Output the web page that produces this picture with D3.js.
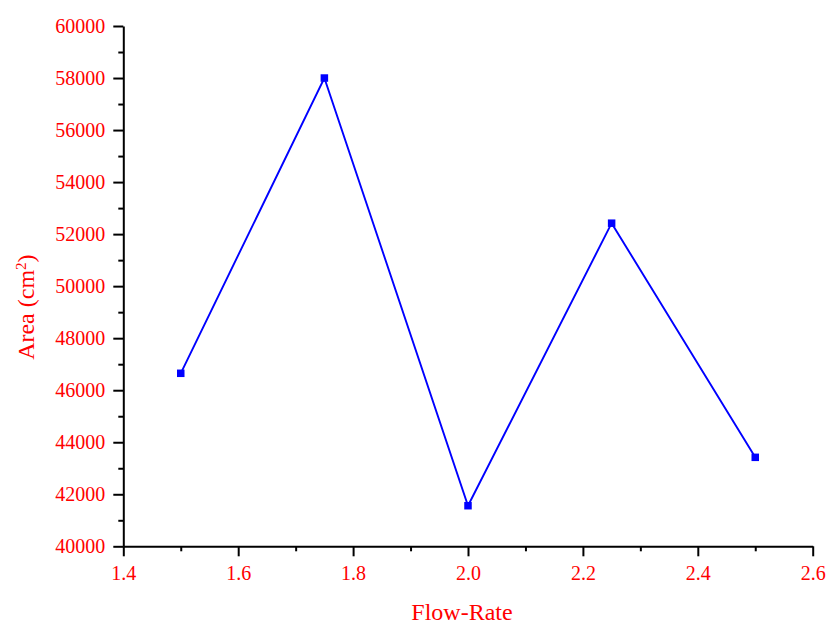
<!DOCTYPE html>
<html>
<head>
<meta charset="utf-8">
<script src="https://cdn.jsdelivr.net/npm/d3@7"></script>
<style>
  html, body { margin: 0; padding: 0; background: #fff; }
  svg { display: block; }
  text { font-family: "Liberation Serif", "Times New Roman", serif; fill: #ff0000; }
</style>
</head>
<body>
<svg id="chart" width="830" height="626"></svg>
<script>
// Flow rate vs. area measurements
const flowRates = [1.5, 1.75, 2.0, 2.25, 2.5];
const areas = [46650, 58000, 41560, 52420, 43420];

const xTicks = [1.4, 1.6, 1.8, 2.0, 2.2, 2.4, 2.6];
const xMinorTicks = [1.5, 1.7, 1.9, 2.1, 2.3, 2.5];
const yTicks = [40000, 42000, 44000, 46000, 48000, 50000, 52000, 54000, 56000, 58000, 60000];
const yMinorTicks = [41000, 43000, 45000, 47000, 49000, 51000, 53000, 55000, 57000, 59000];

const svg = d3.select("#chart");
const plot = { left: 123.3, right: 812.7, top: 26, bottom: 546.3 };

const x = d3.scaleLinear().domain([1.4, 2.6]).range([plot.left, plot.right]);
const y = d3.scaleLinear().domain([40000, 60000]).range([plot.bottom, plot.top]);

// Minor ticks
const xMinor = d3.axisBottom(x).tickValues(xMinorTicks).tickSize(5).tickFormat("");
const yMinor = d3.axisLeft(y).tickValues(yMinorTicks).tickSize(5).tickFormat("");
svg.append("g").attr("transform", `translate(0,${plot.bottom})`).call(xMinor)
  .call(g => g.select(".domain").remove())
  .selectAll("line").attr("stroke", "#000").attr("stroke-width", 2);
svg.append("g").attr("transform", `translate(${plot.left},0)`).call(yMinor)
  .call(g => g.select(".domain").remove())
  .selectAll("line").attr("stroke", "#000").attr("stroke-width", 2);

// Major axes
const xAxis = d3.axisBottom(x).tickValues(xTicks).tickSize(10).tickSizeOuter(0)
  .tickPadding(10).tickFormat(d3.format(".1f"));
const yAxis = d3.axisLeft(y).tickValues(yTicks).tickSize(10).tickSizeOuter(0)
  .tickPadding(8).tickFormat(d3.format("d"));

const gx = svg.append("g").attr("transform", `translate(0,${plot.bottom})`).call(xAxis);
const gy = svg.append("g").attr("transform", `translate(${plot.left},0)`).call(yAxis);

[gx, gy].forEach(g => {
  g.select(".domain").attr("stroke", "#000").attr("stroke-width", 2);
  g.selectAll(".tick line").attr("stroke", "#000").attr("stroke-width", 2);
  g.selectAll(".tick text")
    .attr("fill", "#ff0000")
    .style("font-family", '"Liberation Serif", "Times New Roman", serif')
    .style("font-size", "20px");
});
gx.selectAll(".tick text").attr("dy", "0.71em");

// Data line
const line = d3.line().x((d, i) => x(flowRates[i])).y(d => y(d));
svg.append("path")
  .datum(areas)
  .attr("d", line)
  .attr("fill", "none")
  .attr("stroke", "#0000ff")
  .attr("stroke-width", 1.9);

// Square markers
const ms = 7.5;
svg.selectAll("rect.marker")
  .data(areas)
  .enter().append("rect")
  .attr("class", "marker")
  .attr("x", (d, i) => x(flowRates[i]) - ms / 2)
  .attr("y", d => y(d) - ms / 2)
  .attr("width", ms)
  .attr("height", ms)
  .attr("fill", "#0000ff");

// Axis titles
svg.append("text")
  .attr("x", (plot.left + plot.right) / 2 - 6)
  .attr("y", 620)
  .attr("text-anchor", "middle")
  .style("font-size", "24px")
  .text("Flow-Rate");

const yTitle = svg.append("text")
  .attr("transform", `translate(34,${(plot.top + plot.bottom) / 2 + 21}) rotate(-90)`)
  .attr("text-anchor", "middle")
  .style("font-size", "24px");
yTitle.append("tspan").text("Area (cm");
yTitle.append("tspan").attr("baseline-shift", "super").style("font-size", "15px").text("2");
yTitle.append("tspan").text(")");
</script>
</body>
</html>
